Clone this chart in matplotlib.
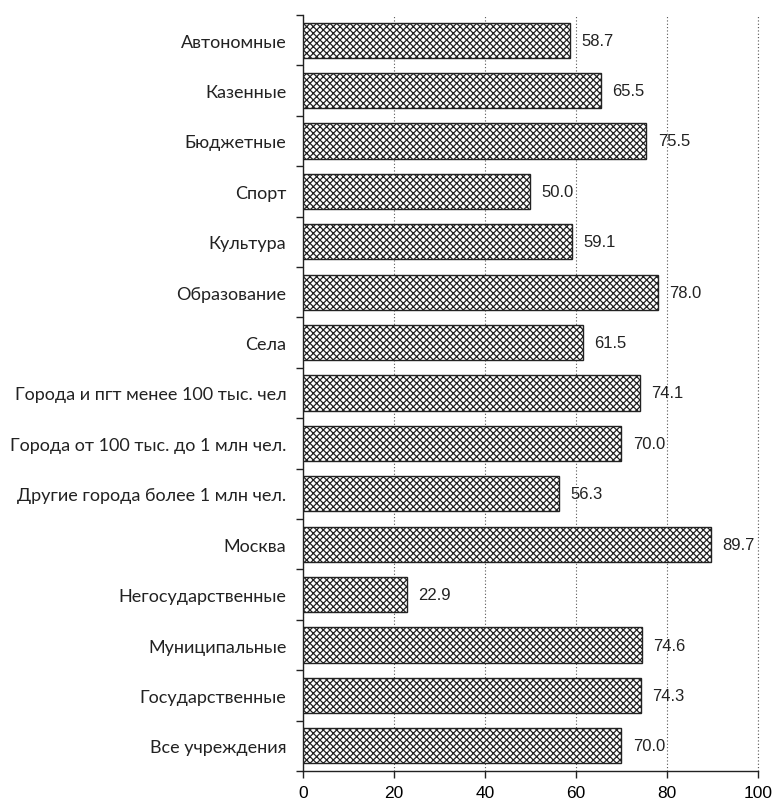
import matplotlib
matplotlib.use("Agg")
import matplotlib.pyplot as plt
import numpy as np

# categories listed bottom-to-top
labels = [
    "Все учреждения",
    "Государственные",
    "Муниципальные",
    "Негосударственные",
    "Москва",
    "Другие города более 1 млн чел.",
    "Города от 100 тыс. до 1 млн чел.",
    "Города и пгт менее 100 тыс. чел",
    "Села",
    "Образование",
    "Культура",
    "Спорт",
    "Бюджетные",
    "Казенные",
    "Автономные",
]
values = [70.0, 74.3, 74.6, 22.9, 89.7, 56.3, 70.0, 74.1, 61.5, 78.0, 59.1, 50.0, 75.5, 65.5, 58.7]
xticks = [0, 20, 40, 60, 80, 100]

plt.rcParams["hatch.linewidth"] = 0.9
plt.rcParams["hatch.color"] = "#3a3a3a"

fig = plt.figure(figsize=(7.74, 8.03), dpi=100)
ax = fig.add_axes([0.3915, 0.0386, 0.5875, 0.9415])

y = np.arange(len(labels))
ax.barh(y, values, height=0.7, color="white", edgecolor="#222222",
        linewidth=1.0, hatch="xxxxx", zorder=3)

for yi, v in zip(y, values):
    ax.text(v + 2.5, yi, f"{v:.1f}", va="center", ha="left",
            fontsize=12, family="Liberation Sans", color="#222222")

ax.set_xlim(0, 100)
ax.set_ylim(-0.5, len(labels) - 0.5)
ax.set_xticks(xticks)
ax.set_xticklabels([str(t) for t in xticks], family="Liberation Sans", fontsize=12.5)
ax.xaxis.grid(True, linestyle=(0, (1, 2)), color="#555555", linewidth=0.8, zorder=0)
ax.axvline(100, linestyle=(0, (1, 2)), color="#555555", linewidth=0.8,
           clip_on=False, zorder=0)

# category names as labels, tick marks between bars
ax.set_yticks(y)
ax.set_yticklabels(labels, family="Lato", fontsize=13, color="#222222")
ax.tick_params(axis="y", length=0, pad=12)
ax.set_yticks(np.arange(-0.5, len(labels), 1.0), minor=True)
ax.tick_params(axis="y", which="minor", length=5, width=1.0, color="#222222")
ax.tick_params(axis="x", length=5, width=1.0, color="#222222", pad=5)

for side in ("top", "right"):
    ax.spines[side].set_visible(False)
for side in ("left", "bottom"):
    ax.spines[side].set_linewidth(1.0)
    ax.spines[side].set_color("#222222")

fig.savefig("out.png", dpi=100)
